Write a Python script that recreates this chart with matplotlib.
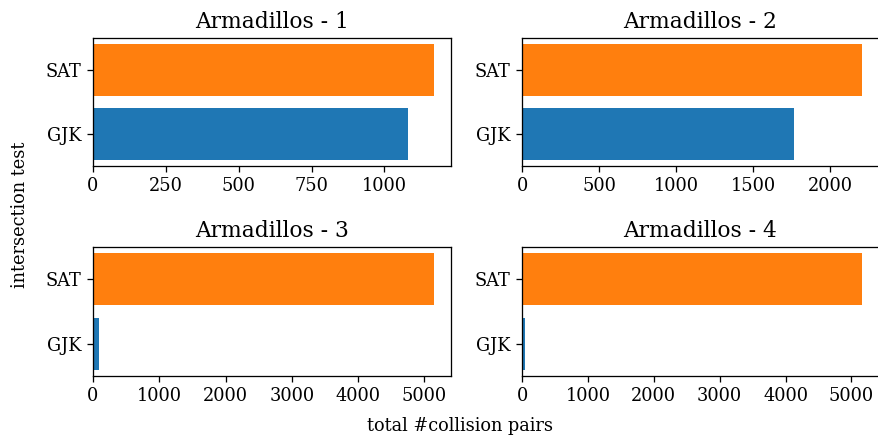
"""Horizontal bar comparison of SAT vs GJK collision-pair counts per Armadillos scene."""

import matplotlib

matplotlib.use("Agg")
import matplotlib.pyplot as plt

plt.rcParams["font.family"] = "DejaVu Serif"

TESTS = ["GJK", "SAT"]
COLORS = ["tab:blue", "tab:orange"]
SCENES = ["Armadillos - 1", "Armadillos - 2", "Armadillos - 3", "Armadillos - 4"]
GJK_PAIRS = [1082, 1761, 91, 50]
SAT_PAIRS = [1170, 2205, 5145, 5160]

DPI = 116
W, H = 878, 439

# axes boxes in pixels: (left, top, right, bottom)
BOXES = [
    (93, 38, 451, 166),
    (522, 38, 879, 166),
    (93, 247, 451, 376),
    (522, 247, 879, 376),
]


def main() -> None:
    fig = plt.figure(figsize=(W / DPI, H / DPI), dpi=DPI)
    for (l, t, r, b), title, gjk, sat in zip(BOXES, SCENES, GJK_PAIRS, SAT_PAIRS):
        ax = fig.add_axes([l / W, 1 - b / H, (r - l) / W, (b - t) / H])
        ax.barh(TESTS, [gjk, sat], color=COLORS, height=0.8)
        ax.set_title(title, fontsize=13.5)
        ax.tick_params(labelsize=11)
    fig.text(20 / W, 1 - 215 / H, "intersection test", rotation=90,
             ha="center", va="center", fontsize=11)
    fig.text(460 / W, 1 - 426 / H, "total #collision pairs",
             ha="center", va="center", fontsize=11)
    fig.savefig("out.png", dpi=DPI)


if __name__ == "__main__":
    main()
